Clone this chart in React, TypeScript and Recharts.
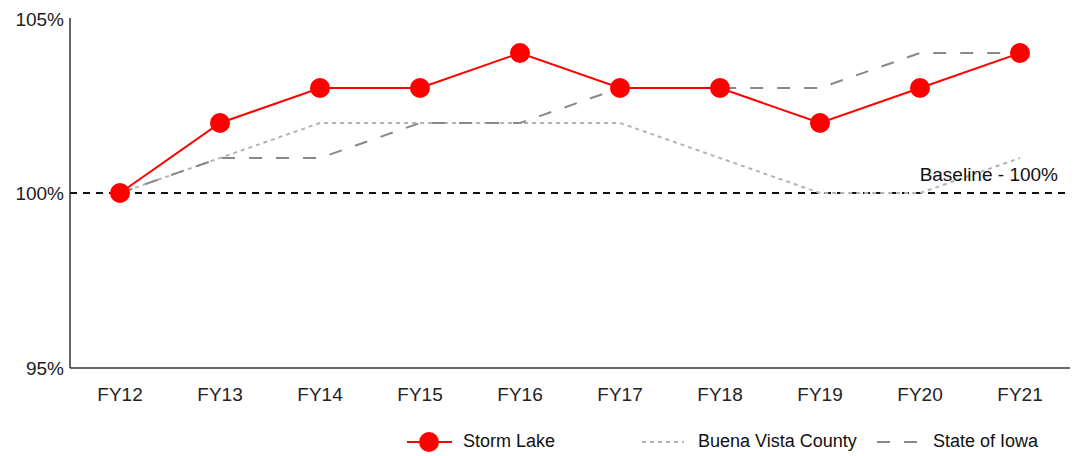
import { LineChart, Line, XAxis, YAxis, ReferenceLine, Legend } from 'recharts'

const years = ['FY12', 'FY13', 'FY14', 'FY15', 'FY16', 'FY17', 'FY18', 'FY19', 'FY20', 'FY21']
const stormLake = [100, 102, 103, 103, 104, 103, 103, 102, 103, 104]
const buenaVista = [100, 101, 102, 102, 102, 102, 101, 100, 100, 101]
const stateOfIowa = [100, 101, 101, 102, 102, 103, 103, 103, 104, 104]
const yTicks = [95, 100, 105]

const chartData = years.map((name, i) => ({
  name,
  storm: stormLake[i],
  buena: buenaVista[i],
  iowa: stateOfIowa[i],
}))

const FONT = '"Liberation Sans", Arial, sans-serif'

const LegendBox = () => (
  <div style={{ position: 'relative', height: 24, fontFamily: FONT, fontSize: 18, color: '#111' }}>
    <svg
      width={48}
      height={24}
      style={{ position: 'absolute', left: 398, top: 0 }}>
      <line x1={1} y1={12} x2={46} y2={12} stroke='#ff0000' strokeWidth={2} />
      <circle cx={23} cy={12} r={10} fill='#ff0000' />
    </svg>
    <span style={{ position: 'absolute', left: 455, top: 1 }}>Storm Lake</span>
    <svg
      width={44}
      height={24}
      style={{ position: 'absolute', left: 634, top: 0 }}>
      <line x1={0} y1={12} x2={42} y2={12} stroke='#b3b3b3' strokeWidth={2} strokeDasharray='4 4' />
    </svg>
    <span style={{ position: 'absolute', left: 690, top: 1 }}>Buena Vista County</span>
    <svg
      width={44}
      height={24}
      style={{ position: 'absolute', left: 869, top: 0 }}>
      <line x1={0} y1={12} x2={42} y2={12} stroke='#888888' strokeWidth={2} strokeDasharray='13 14' />
    </svg>
    <span style={{ position: 'absolute', left: 925, top: 1 }}>State of Iowa</span>
  </div>
)

export default function App() {
  return (
    <LineChart
      width={1071}
      height={448}
      data={chartData}
      margin={{ top: 10, right: 9, bottom: 2, left: 0 }}>
      <XAxis
        dataKey='name'
        type='category'
        height={62}
        padding={{ left: 50, right: 50 }}
        tickSize={0}
        tickMargin={20}
        axisLine={{ stroke: '#333', strokeWidth: 1.5 }}
        tickLine={false}
        tick={{ fill: '#222', fontSize: 19, fontFamily: FONT }}
      />
      <YAxis
        width={62}
        domain={[95, 105]}
        ticks={yTicks}
        tickFormatter={v => `${v}%`}
        tickSize={0}
        tickMargin={6}
        axisLine={{ stroke: '#333', strokeWidth: 1.5 }}
        tickLine={false}
        tick={{ fill: '#222', fontSize: 19, fontFamily: FONT }}
      />
      <ReferenceLine
        y={100}
        stroke='#111'
        strokeWidth={2}
        strokeDasharray='7 6'
        label={{
          value: 'Baseline - 100%',
          position: 'insideBottomRight',
          offset: 12,
          fill: '#111',
          fontSize: 19,
          fontFamily: FONT,
        }}
      />
      <Line
        dataKey='buena'
        name='Buena Vista County'
        stroke='#b3b3b3'
        strokeWidth={2}
        strokeDasharray='4 4'
        dot={false}
        activeDot={false}
        isAnimationActive={false}
      />
      <Line
        dataKey='iowa'
        name='State of Iowa'
        stroke='#888888'
        strokeWidth={2}
        strokeDasharray='13 14'
        dot={false}
        activeDot={false}
        isAnimationActive={false}
      />
      <Line
        dataKey='storm'
        name='Storm Lake'
        stroke='#ff0000'
        strokeWidth={2}
        dot={{ r: 10, fill: '#ff0000', stroke: 'none' }}
        activeDot={false}
        isAnimationActive={false}
      />
      <Legend
        verticalAlign='bottom'
        content={() => <LegendBox />}
      />
    </LineChart>
  )
}
